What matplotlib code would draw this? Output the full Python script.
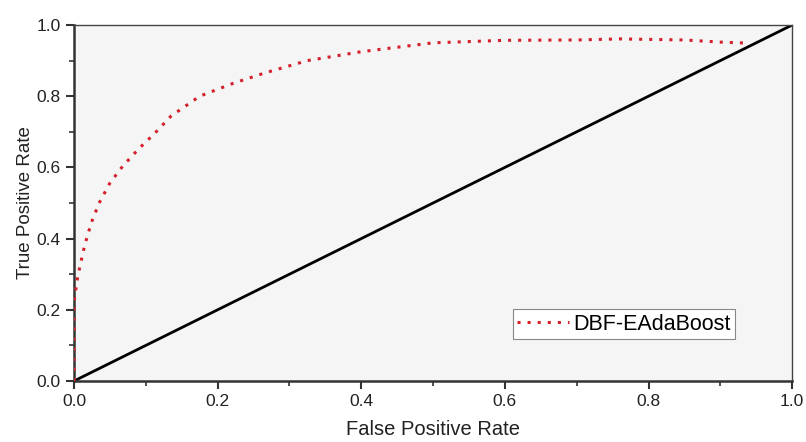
import matplotlib.pyplot as plt

plt.rcParams['font.family'] = ['Liberation Sans', 'DejaVu Sans']

# ── ROC data ─────────────────────────────────────────────────────────────────
fpr = [0.0, 0.0, 0.002, 0.005, 0.008, 0.015, 0.024, 0.035, 0.05, 0.068,
       0.09, 0.113, 0.135, 0.175, 0.22, 0.265, 0.325, 0.4, 0.5, 0.6, 0.7,
       0.76, 0.85, 0.9, 0.94]
tpr = [0.0, 0.22, 0.25, 0.29, 0.32, 0.382, 0.444, 0.50, 0.556, 0.604,
       0.652, 0.697, 0.744, 0.80, 0.835, 0.865, 0.90, 0.925, 0.95, 0.957,
       0.958, 0.961, 0.958, 0.952, 0.949]
diag = [0.0, 1.0]
ticks = [0.0, 0.2, 0.4, 0.6, 0.8, 1.0]
minor_ticks = [0.1, 0.3, 0.5, 0.7, 0.9]

fig = plt.figure(figsize=(8.06, 4.42), dpi=100)
ax = fig.add_axes([0.0918, 0.138, 0.891, 0.8054])
ax.set_facecolor('#f5f5f5')

ax.plot(fpr, tpr, color='#d4202c', lw=2.2, linestyle=(0, (1, 2.3)),
        label='DBF-EAdaBoost', zorder=3)
ax.plot(diag, diag, color='black', lw=2, zorder=2)

ax.set_xlim(0, 1)
ax.set_ylim(0, 1)
ax.set_xticks(ticks)
ax.set_yticks(ticks)
ax.set_xticks(minor_ticks, minor=True)
ax.set_yticks(minor_ticks, minor=True)
ax.set_xticklabels([f'{t:.1f}' for t in ticks])
ax.set_yticklabels([f'{t:.1f}' for t in ticks])
ax.tick_params(which='major', direction='out', length=6, width=1.5,
               labelsize=12.5, colors='#333333', labelcolor='#222222')
ax.tick_params(which='minor', direction='out', length=3.5, width=1.2,
               colors='#333333')

for side in ['left', 'bottom']:
    ax.spines[side].set_linewidth(1.8)
    ax.spines[side].set_color('#333333')
for side in ['top', 'right']:
    ax.spines[side].set_linewidth(1.0)
    ax.spines[side].set_color('#444444')

ax.set_xlabel('False Positive Rate', fontsize=14.5, color='#222222', labelpad=8)
ax.set_ylabel('True Positive Rate', fontsize=13.5, color='#222222', labelpad=2)

leg = ax.legend(loc='lower left', bbox_to_anchor=(0.611, 0.118),
                borderaxespad=0, fontsize=15.5, handlelength=2.4,
                handletextpad=0.2, borderpad=0.2, fancybox=False,
                framealpha=1, edgecolor='#888888', facecolor='white')
leg.get_frame().set_linewidth(0.8)

plt.savefig('out.png', dpi=100)
